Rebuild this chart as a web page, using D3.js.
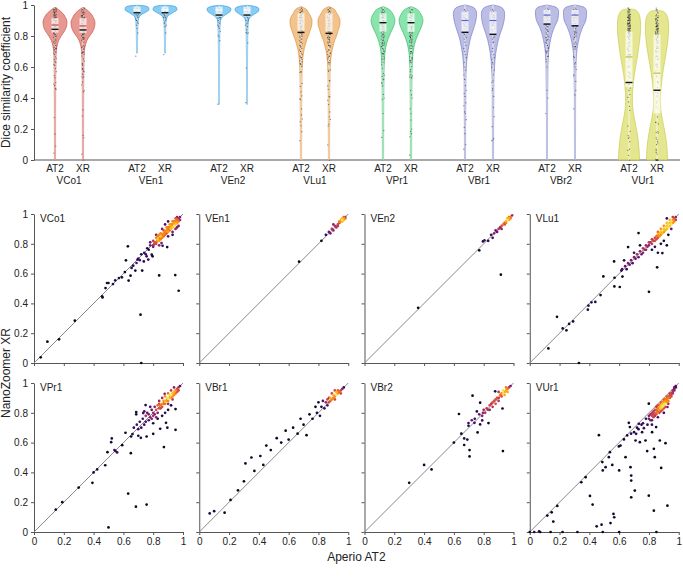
<!DOCTYPE html>
<html>
<head>
<meta charset="utf-8">
<script src="https://cdn.jsdelivr.net/npm/d3@7"></script>
<style>
  body { margin: 0; background: #fff; }
  svg { font-family: "Liberation Sans", Arial, sans-serif; }
  .axis path, .axis line { stroke: #555; }
  .axis text { font-size: 10px; fill: #222; font-family: "Liberation Sans", Arial, sans-serif; }
</style>
</head>
<body>
<div id="chart"></div>
<script>
// ---- data ----
const groups = ["VCo1", "VEn1", "VEn2", "VLu1", "VPr1", "VBr1", "VBr2", "VUr1"];
const platforms = ["AT2", "XR"];
const tickValues = [0, 0.2, 0.4, 0.6, 0.8, 1];
const tickLabels = ["0", "0.2", "0.4", "0.6", "0.8", "1"];

// violin outline: [dice value, relative half width]
const profileAT2 = [
  [[0.985,0],[0.97,0.3],[0.95,0.6],[0.92,0.88],[0.89,1],[0.86,0.95],[0.83,0.78],[0.8,0.52],[0.77,0.3],[0.73,0.16],[0.68,0.09],[0.55,0.06],[0.3,0.05],[0,0.045]],
  [[0.998,0],[0.995,0.6],[0.985,0.95],[0.97,1],[0.955,0.75],[0.94,0.42],[0.925,0.2],[0.9,0.1],[0.85,0.06],[0.75,0.045],[0.69,0.04]],
  [[0.998,0],[0.99,0.7],[0.975,1],[0.96,0.95],[0.945,0.7],[0.93,0.4],[0.915,0.2],[0.89,0.1],[0.8,0.06],[0.6,0.04],[0.36,0.035]],
  [[0.99,0],[0.975,0.4],[0.946,0.65],[0.92,0.85],[0.9,0.92],[0.87,0.9],[0.84,0.78],[0.8,0.6],[0.774,0.47],[0.74,0.35],[0.71,0.25],[0.645,0.14],[0.58,0.09],[0.45,0.065],[0.2,0.055],[0,0.05]],
  [[0.99,0],[0.975,0.45],[0.95,0.75],[0.92,0.95],[0.9,1],[0.87,0.92],[0.82,0.63],[0.78,0.42],[0.73,0.24],[0.66,0.13],[0.55,0.08],[0.3,0.055],[0,0.05]],
  [[1,0],[0.99,0.55],[0.97,0.88],[0.946,0.97],[0.92,0.95],[0.89,0.88],[0.86,0.77],[0.82,0.6],[0.774,0.42],[0.73,0.31],[0.69,0.22],[0.6,0.11],[0.5,0.07],[0.2,0.05],[0,0.045]],
  [[1,0],[0.99,0.6],[0.975,0.9],[0.957,0.97],[0.93,0.95],[0.9,0.88],[0.86,0.63],[0.817,0.43],[0.753,0.24],[0.688,0.13],[0.6,0.08],[0.4,0.05],[0,0.04]],
  [[0.975,0],[0.97,0.5],[0.946,0.8],[0.9,0.95],[0.86,0.97],[0.8,0.93],[0.753,0.86],[0.7,0.77],[0.645,0.65],[0.59,0.53],[0.537,0.42],[0.48,0.34],[0.43,0.29],[0.38,0.28],[0.344,0.3],[0.28,0.42],[0.215,0.58],[0.13,0.76],[0.06,0.85],[0,0.88]]
];
const profileXR = [
  [[0.985,0],[0.97,0.3],[0.95,0.6],[0.92,0.86],[0.885,1],[0.855,0.95],[0.825,0.78],[0.8,0.55],[0.77,0.32],[0.73,0.17],[0.68,0.09],[0.55,0.06],[0.3,0.05],[0,0.045]],
  [[0.998,0],[0.995,0.6],[0.985,0.95],[0.97,1],[0.955,0.75],[0.94,0.42],[0.925,0.2],[0.9,0.1],[0.85,0.06],[0.75,0.045],[0.69,0.04]],
  [[0.998,0],[0.99,0.7],[0.975,1],[0.96,0.95],[0.945,0.7],[0.93,0.4],[0.915,0.2],[0.89,0.1],[0.8,0.06],[0.6,0.04],[0.36,0.035]],
  [[0.99,0],[0.975,0.4],[0.946,0.65],[0.92,0.85],[0.9,0.92],[0.87,0.9],[0.84,0.78],[0.8,0.62],[0.774,0.48],[0.74,0.36],[0.71,0.26],[0.645,0.14],[0.58,0.09],[0.45,0.065],[0.2,0.055],[0,0.05]],
  [[0.99,0],[0.975,0.45],[0.95,0.75],[0.92,0.95],[0.9,1],[0.87,0.92],[0.82,0.64],[0.78,0.43],[0.73,0.25],[0.66,0.13],[0.55,0.08],[0.3,0.055],[0,0.05]],
  [[1,0],[0.99,0.55],[0.97,0.88],[0.946,0.97],[0.92,0.96],[0.89,0.9],[0.86,0.8],[0.82,0.62],[0.774,0.44],[0.73,0.32],[0.69,0.23],[0.6,0.12],[0.5,0.07],[0.2,0.05],[0,0.045]],
  [[1,0],[0.99,0.6],[0.975,0.9],[0.957,0.97],[0.93,0.95],[0.9,0.9],[0.86,0.66],[0.817,0.45],[0.753,0.25],[0.688,0.13],[0.6,0.08],[0.4,0.05],[0,0.04]],
  [[0.965,0],[0.96,0.5],[0.935,0.8],[0.89,0.95],[0.85,0.97],[0.79,0.93],[0.74,0.86],[0.69,0.76],[0.635,0.64],[0.58,0.52],[0.525,0.42],[0.47,0.34],[0.42,0.29],[0.37,0.28],[0.33,0.31],[0.27,0.43],[0.21,0.58],[0.13,0.76],[0.06,0.85],[0,0.88]]
];

// box summary: [q1, q3, median, mean]
const boxAT2 = [
  [0.822,0.915,0.871,0.843], [0.945,0.99,0.968,0.95], [0.925,0.99,0.968,0.935], [0.835,0.946,0.892,0.823],
  [0.828,0.946,0.905,0.886], [0.824,0.957,0.9,0.824], [0.877,0.968,0.935,0.877], [0.47,0.83,0.665,0.5]
];
const boxXR = [
  [0.82,0.915,0.865,0.839], [0.945,0.99,0.968,0.95], [0.925,0.99,0.968,0.935], [0.83,0.946,0.892,0.817],
  [0.826,0.946,0.905,0.886], [0.806,0.957,0.9,0.811], [0.866,0.968,0.935,0.866], [0.3,0.81,0.56,0.45]
];

const violinFill = ["#e3867c", "#72c4f2", "#72c4f2", "#f0b878", "#74e09e", "#b0b1e0", "#b0b1e0", "#dfe27c"];
const violinStroke = ["#c8453b", "#2f95d8", "#2f95d8", "#d98a30", "#2fb35f", "#6f72c4", "#6f72c4", "#c3c83a"];
const medianColor = ["#d0483e", "#ffffff", "#ffffff", "#f6e7d2", "#e6f8ec", "#5b5fd0", "#5b5fd0", "#c4be3a"];

// scatter points per category: [Aperio AT2, NanoZoomer XR]
const ptsVCo1 = [
  [0.045,0.038],[0.09,0.143],[0.168,0.159],[0.274,0.284],[0.457,0.447],[0.46,0.44],[0.48,0.503],[0.49,0.537],[0.5,0.537],
  [0.53,0.53],[0.545,0.555],[0.57,0.57],[0.59,0.575],[0.61,0.61],[0.617,0.689],[0.63,0.783],[0.635,0.553],[0.648,0.586],
  [0.655,0.638],[0.666,0.653],[0.68,0.62],[0.688,0.671],[0.695,0.694],[0.715,0.324],[0.726,0.62],[0.737,0.682],[0.756,0.716],
  [0.767,0.694],[0.79,0.727],[0.796,0.716],[0.84,0.588],[0.856,0.805],[0.863,0.787],[0.894,0.778],[0.948,0.59],[0.971,0.485],
  [0.72,0],[0.7,0.7],[0.71,0.69],[0.72,0.73],[0.74,0.74],[0.75,0.73],[0.76,0.77],[0.77,0.76],[0.78,0.79],[0.8,0.78],
  [0.8,0.82],[0.81,0.8],[0.82,0.81],[0.82,0.84],[0.83,0.82],[0.84,0.83],[0.84,0.86],[0.85,0.84],
  [0.80,0.79],[0.81,0.81],[0.82,0.80],[0.83,0.83],[0.84,0.82],[0.85,0.85],[0.85,0.83],[0.86,0.86],[0.86,0.84],[0.87,0.87],
  [0.87,0.85],[0.88,0.88],[0.88,0.86],[0.89,0.89],[0.89,0.87],[0.9,0.9],[0.9,0.88],[0.9,0.91],[0.91,0.91],[0.91,0.89],
  [0.92,0.92],[0.92,0.9],[0.92,0.93],[0.93,0.93],[0.93,0.91],[0.94,0.94],[0.94,0.92],[0.94,0.95],[0.95,0.95],[0.95,0.93],
  [0.96,0.96],[0.96,0.94],[0.97,0.97],[0.97,0.95],[0.98,0.98],[0.98,0.96],[0.93,0.95],[0.91,0.93],[0.89,0.91],[0.87,0.89],
  [0.95,0.97],[0.96,0.98],[0.83,0.85],[0.85,0.87],[0.88,0.93],[0.9,0.95],[0.93,0.88],[0.95,0.9],[0.97,0.92],[0.86,0.9],
  [0.84,0.79],[0.82,0.86],[0.78,0.81],[0.93,0.86],[0.96,0.91],[0.9,0.85]
];
const ptsVEn1 = [
  [0.67,0.68],[0.82,0.82],[0.85,0.86],[0.87,0.88],[0.88,0.87],[0.89,0.9],[0.9,0.89],[0.91,0.92],[0.92,0.91],[0.93,0.93],
  [0.94,0.94],[0.95,0.95],[0.95,0.96],[0.96,0.96],[0.97,0.97],[0.97,0.96],[0.98,0.98],[0.96,0.97],[0.94,0.95],[0.93,0.92],
  [0.9,0.93],[0.96,0.95],[0.97,0.98],[0.98,0.97]
];
const ptsVEn2 = [
  [0.36,0.37],[0.77,0.756],[0.795,0.816],[0.805,0.823],[0.83,0.82],[0.85,0.86],[0.86,0.84],[0.87,0.87],[0.88,0.89],[0.89,0.88],
  [0.9,0.9],[0.91,0.91],[0.92,0.92],[0.93,0.93],[0.94,0.94],[0.95,0.95],[0.95,0.94],[0.96,0.96],[0.97,0.97],[0.97,0.96],
  [0.98,0.98],[0.99,0.99],[0.96,0.97],[0.94,0.93],[0.915,0.593],[0.92,0.9],[0.98,0.97],[0.97,0.98]
];
const ptsVLu1 = [
  [0.125,0.098],[0.183,0.31],[0.221,0.232],[0.246,0.219],[0.264,0.262],[0.291,0.279],[0.39,0.358],[0.394,0.385],[0.414,0.407],
  [0.44,0.41],[0.475,0.456],[0.494,0.581],[0.568,0.514],[0.569,0.572],[0.566,0.682],[0.604,0.51],[0.615,0.62],[0.622,0.58],
  [0.633,0.689],[0.66,0.778],[0.73,0.872],[0.8,0.478],[0.855,0.642],[0.86,0.74],[0.92,0.97],[0.89,0.738],[0.33,0],
  [0.62,0.63],[0.64,0.65],[0.65,0.63],[0.66,0.67],[0.67,0.66],[0.68,0.69],[0.69,0.67],[0.7,0.71],[0.71,0.7],[0.72,0.73],
  [0.73,0.71],[0.74,0.75],[0.75,0.73],[0.76,0.77],[0.76,0.74],[0.77,0.76],[0.78,0.79],[0.78,0.76],[0.79,0.78],[0.8,0.81],
  [0.8,0.79],[0.7,0.74],[0.74,0.79],[0.82,0.76],[0.84,0.78],[0.88,0.8],[0.9,0.82],[0.93,0.86],[0.95,0.9],[0.92,0.79],
  [0.81,0.81],[0.82,0.8],[0.82,0.83],[0.83,0.82],[0.84,0.84],[0.84,0.82],[0.85,0.85],[0.85,0.83],[0.86,0.86],[0.86,0.84],
  [0.87,0.87],[0.87,0.85],[0.88,0.88],[0.88,0.86],[0.89,0.89],[0.89,0.87],[0.9,0.9],[0.9,0.88],[0.91,0.91],[0.91,0.89],
  [0.92,0.92],[0.92,0.9],[0.93,0.93],[0.93,0.91],[0.94,0.94],[0.94,0.92],[0.95,0.95],[0.95,0.93],[0.96,0.96],[0.96,0.94],
  [0.97,0.97],[0.97,0.95],[0.98,0.98],[0.88,0.9],[0.9,0.92],[0.92,0.94],[0.94,0.96],[0.86,0.88],[0.96,0.98],[0.98,0.96]
];
const ptsVPr1 = [
  [0.146,0.15],[0.19,0.2],[0.3,0.298],[0.392,0.33],[0.4,0.4],[0.424,0.42],[0.478,0.448],[0.493,0.536],[0.518,0.603],
  [0.522,0.628],[0.54,0.55],[0.547,0.543],[0.558,0.534],[0.592,0.583],[0.614,0.666],[0.65,0.529],[0.632,0.258],[0.652,0.641],
  [0.661,0.657],[0.684,0.17],[0.756,0.184],[0.5,0.031],[0.7,0.646],[0.717,0.632],[0.756,0.641],[0.749,0.852],[0.686,0.805],
  [0.686,0.79],[0.733,0.798],[0.8,0.659],[0.847,0.693],[0.872,0.57],[0.886,0.733],[0.895,0.7],[0.95,0.686],[0.95,0.825],
  [0.877,0.928],
  [0.67,0.7],[0.69,0.72],[0.7,0.69],[0.71,0.74],[0.72,0.7],[0.73,0.76],[0.74,0.72],[0.75,0.78],[0.75,0.74],[0.76,0.8],
  [0.77,0.75],[0.77,0.79],[0.78,0.77],[0.79,0.82],[0.79,0.76],[0.8,0.8],[0.8,0.78],[0.81,0.84],[0.81,0.79],[0.82,0.82],
  [0.82,0.77],[0.83,0.85],[0.83,0.8],[0.84,0.83],[0.78,0.84],[0.74,0.81],[0.8,0.73],[0.83,0.76],[0.86,0.78],[0.88,0.8],
  [0.9,0.82],[0.92,0.85],[0.86,0.9],[0.84,0.88],
  [0.84,0.86],[0.85,0.85],[0.85,0.83],[0.86,0.86],[0.86,0.84],[0.87,0.88],[0.87,0.86],[0.88,0.88],[0.88,0.86],[0.89,0.9],
  [0.89,0.88],[0.9,0.9],[0.9,0.88],[0.91,0.92],[0.91,0.9],[0.92,0.92],[0.92,0.9],[0.93,0.93],[0.93,0.91],[0.94,0.94],
  [0.94,0.92],[0.95,0.95],[0.95,0.93],[0.96,0.96],[0.96,0.94],[0.97,0.97],[0.97,0.95],[0.98,0.98],[0.88,0.91],[0.9,0.93],
  [0.92,0.95],[0.94,0.97],[0.9,0.86],[0.93,0.89]
];
const ptsVBr1 = [
  [0.07,0.125],[0.1,0.14],[0.17,0.13],[0.21,0.215],[0.26,0.28],[0.3,0.34],[0.31,0.46],[0.35,0.5],[0.37,0.41],[0.41,0.51],
  [0.43,0.45],[0.45,0.58],[0.48,0.55],[0.52,0.63],[0.55,0.6],[0.58,0.68],[0.6,0.62],[0.63,0.7],[0.66,0.66],[0.68,0.76],
  [0.7,0.72],[0.72,0.65],[0.74,0.79],[0.76,0.76],[0.78,0.84],[0.79,0.8],[0.8,0.87],[0.81,0.78],[0.82,0.84],[0.83,0.88],
  [0.84,0.83],[0.85,0.87],[0.86,0.85],[0.86,0.89],[0.87,0.87],[0.88,0.88],[0.88,0.9],[0.89,0.89],[0.9,0.9],[0.9,0.92],
  [0.91,0.91],[0.92,0.92],[0.92,0.94],[0.93,0.93],[0.94,0.94],[0.95,0.95],[0.95,0.93],[0.96,0.96],[0.97,0.97],[0.93,0.95],
  [0.91,0.89],[0.89,0.93],[0.87,0.9],[0.91,0.95]
];
const ptsVBr2 = [
  [0.3,0.33],[0.4,0.45],[0.45,0.42],[0.634,0.792],[0.669,0.584],[0.669,0.628],[0.69,0.62],[0.705,0.55],[0.705,0.507],
  [0.698,0.713],[0.698,0.731],[0.725,0.915],[0.738,0.733],[0.754,0.809],[0.759,0.668],[0.776,0.868],[0.776,0.722],[0.79,0.749],
  [0.795,0.8],[0.832,0.731],[0.877,0.944],[0.929,0.543],[0.926,0.829],[0.6,0.6],[0.65,0.66],[0.72,0.75],[0.74,0.76],
  [0.77,0.79],[0.79,0.78],[0.8,0.82],[0.81,0.8],[0.82,0.83],[0.83,0.82],[0.84,0.85],[0.84,0.82],[0.85,0.86],[0.86,0.84],
  [0.86,0.87],[0.87,0.88],[0.88,0.86],[0.88,0.89],[0.89,0.9],[0.9,0.9],[0.9,0.88],[0.91,0.92],[0.92,0.91],[0.92,0.93],
  [0.93,0.93],[0.94,0.94],[0.94,0.92],[0.95,0.95],[0.96,0.96],[0.96,0.94],[0.97,0.97],[0.98,0.98],[0.93,0.95],[0.95,0.97],
  [0.9,0.94]
];
const ptsVUr1 = [
  [0.0625,0.005],[0.118,0.11],[0.147,0.132],[0.158,0.07],[0.185,0.175],[0.346,0.334],[0.375,0.368],[0.404,0.242],[0.422,0.184],
  [0.449,0.038],[0.482,0.049],[0.464,0.65],[0.487,0.469],[0.49,0.413],[0.509,0.435],[0.531,0.502],[0.538,0.536],[0.542,0.06],
  [0.554,0.45],[0.562,0.121],[0.567,0.099],[0.598,0.574],[0.6,0.413],[0.609,0.58],[0.632,0.621],[0.643,0.502],[0.654,0.648],
  [0.665,0.733],[0.672,0.704],[0.676,0.435],[0.681,0.379],[0.681,0.345],[0.681,0.233],[0.705,0.278],[0.71,0.614],[0.714,0.659],
  [0.732,0.726],[0.739,0.603],[0.754,0.67],[0.766,0.697],[0.777,0.614],[0.788,0.543],[0.799,0.244],[0.799,0.861],[0.821,0.67],
  [0.833,0.143],[0.833,0.558],[0.839,0.502],[0.848,0.704],[0.873,0.614],[0.882,0.43],[0.911,0.596],[0.924,0.177],[0.924,0.839],
  [0.07,0],[0.14,0],[0.22,0],[0.32,0],[0.49,0],[0.6,0],[0.85,0],[0,0],[0.03,0],
  [0.72,0.7],[0.75,0.72],[0.78,0.76],[0.8,0.78],[0.81,0.75],[0.82,0.8],[0.83,0.77],[0.84,0.82],[0.85,0.79],[0.85,0.84],
  [0.86,0.81],[0.87,0.85],[0.87,0.82],[0.88,0.86],[0.88,0.83],[0.89,0.87],[0.89,0.84],[0.9,0.88],[0.9,0.85],[0.91,0.89],
  [0.91,0.86],[0.92,0.9],[0.92,0.87],[0.93,0.91],[0.93,0.88],[0.94,0.92],[0.94,0.9],[0.95,0.93],[0.95,0.91],[0.96,0.95],
  [0.97,0.96],[0.98,0.97],[0.86,0.77],[0.82,0.72],[0.79,0.72],[0.9,0.8],
  [0.8,0.76],[0.81,0.79],[0.82,0.78],[0.83,0.81],[0.84,0.8],[0.84,0.78],[0.85,0.82],[0.86,0.83],[0.86,0.85],[0.87,0.84],
  [0.87,0.8],[0.88,0.85],[0.88,0.87],[0.89,0.86],[0.89,0.82],[0.9,0.87],[0.9,0.89],[0.91,0.88],[0.91,0.84],[0.92,0.89],
  [0.92,0.91],[0.93,0.9],[0.93,0.86],[0.94,0.91],[0.94,0.93],[0.95,0.92],[0.96,0.94],[0.96,0.93],[0.97,0.95],[0.97,0.97],
  [0.98,0.98],[0.85,0.8],[0.83,0.79],[0.82,0.75],[0.88,0.81],[0.9,0.83],[0.7,0.67],[0.73,0.69],[0.68,0.66],[0.76,0.73]
];
const scatterPts = [ptsVCo1, ptsVEn1, ptsVEn2, ptsVLu1, ptsVPr1, ptsVBr1, ptsVBr2, ptsVUr1];

// ---- drawing ----
const W = 683, H = 577;
const svg = d3.select("#chart").append("svg")
  .attr("width", W).attr("height", H);

// ===== violin panel =====
const yV = d3.scaleLinear().domain([0, 1]).range([160, 5]);
const xGroup = d3.scaleBand().domain(groups).range([28, 684]);
const xPlat = d3.scalePoint().domain(platforms).range([-14, 14]);
const halfW = d3.scaleLinear().domain([0, 1]).range([0, 12]);

const violinG = svg.append("g");

violinG.append("g").attr("class", "axis")
  .attr("transform", "translate(34,0)")
  .call(d3.axisLeft(yV).tickValues(tickValues).tickFormat((d, i) => tickLabels[i]).tickSize(3).tickSizeOuter(0));

violinG.append("line")
  .attr("x1", 34).attr("x2", 680).attr("y1", yV(0)).attr("y2", yV(0))
  .attr("stroke", "#555");

violinG.append("text")
  .attr("transform", `translate(10,${yV(0.5)}) rotate(-90)`)
  .attr("text-anchor", "middle").attr("font-size", 12).attr("fill", "#222")
  .text("Dice similarity coefficient");

groups.forEach((g, gi) => {
  const gc = xGroup(g) + xGroup.bandwidth() / 2;
  platforms.forEach((p, pi) => {
    const cx = gc + xPlat(p);
    const prof = pi === 0 ? profileAT2[gi] : profileXR[gi];
    const box = pi === 0 ? boxAT2[gi] : boxXR[gi];
    const area = d3.area()
      .y(d => yV(d[0]))
      .x0(d => cx - halfW(d[1]))
      .x1(d => cx + halfW(d[1]))
      .curve(d3.curveMonotoneY);
    violinG.append("path")
      .attr("d", area(prof))
      .attr("fill", violinFill[gi])
      .attr("fill-opacity", 0.85)
      .attr("stroke", violinStroke[gi])
      .attr("stroke-width", 0.6);

    const vmax = prof[0][0], vmin = prof[prof.length - 1][0];
    // whisker strip
    violinG.append("rect")
      .attr("x", cx - 1).attr("width", 2)
      .attr("y", yV(vmax)).attr("height", yV(vmin) - yV(vmax))
      .attr("fill", "#fff").attr("opacity", 0.35);

    // raw points
    const vals = scatterPts[gi].map(d => d[pi]);
    violinG.append("g").selectAll("circle")
      .data(vals)
      .join("circle")
      .attr("cx", (d, i) => cx + ((i * 5) % 7 - 3) * 0.4)
      .attr("cy", d => yV(d))
      .attr("r", 0.6)
      .attr("fill", "#222")
      .attr("opacity", 0.6);

    // box
    violinG.append("rect")
      .attr("x", cx - 3.5).attr("width", 7)
      .attr("y", yV(box[1])).attr("height", yV(box[0]) - yV(box[1]))
      .attr("fill", "#fff").attr("opacity", 0.7);
    violinG.append("line")
      .attr("x1", cx - 3.5).attr("x2", cx + 3.5)
      .attr("y1", yV(box[2])).attr("y2", yV(box[2]))
      .attr("stroke", medianColor[gi]).attr("stroke-width", 1.2);
    violinG.append("line")
      .attr("x1", cx - 3.5).attr("x2", cx + 3.5)
      .attr("y1", yV(box[3])).attr("y2", yV(box[3]))
      .attr("stroke", "#111").attr("stroke-width", 1.4);

    violinG.append("text")
      .attr("x", cx).attr("y", 172)
      .attr("text-anchor", "middle").attr("font-size", 10).attr("fill", "#222")
      .text(p);
  });
  violinG.append("text")
    .attr("x", gc).attr("y", 184)
    .attr("text-anchor", "middle").attr("font-size", 10).attr("fill", "#222")
    .text(g);
});

// ===== scatter panels =====
const colScale = d3.scaleBand().domain([0, 1, 2, 3]).range([34, 695]);
const rowScale = d3.scaleBand().domain([0, 1]).range([214, 552]);
const size = 149;

function densities(pts) {
  const r2 = 0.035 * 0.035;
  return pts.map(p => pts.filter(q => (q[0] - p[0]) ** 2 + (q[1] - p[1]) ** 2 < r2).length);
}

groups.forEach((g, gi) => {
  const col = gi % 4, row = Math.floor(gi / 4);
  const x0 = colScale(col), y0 = rowScale(row);
  const xs = d3.scaleLinear().domain([0, 1]).range([x0, x0 + size]);
  const ys = d3.scaleLinear().domain([0, 1]).range([y0 + size, y0]);
  const panel = svg.append("g");

  panel.append("g").attr("class", "axis")
    .attr("transform", `translate(0,${y0 + size})`)
    .call(d3.axisBottom(xs).tickValues(tickValues)
      .tickFormat((d, i) => row === 1 ? tickLabels[i] : "")
      .tickSize(3).tickSizeOuter(0));
  panel.append("g").attr("class", "axis")
    .attr("transform", `translate(${x0},0)`)
    .call(d3.axisLeft(ys).tickValues(tickValues)
      .tickFormat((d, i) => col === 0 ? tickLabels[i] : "")
      .tickSize(3).tickSizeOuter(0));

  panel.append("line")
    .attr("x1", xs(0)).attr("y1", ys(0)).attr("x2", xs(1)).attr("y2", ys(1))
    .attr("stroke", "#8a8a8a").attr("stroke-width", 1);

  const pts = scatterPts[gi];
  const dens = densities(pts);
  const maxD = d3.max(dens);
  const color = d => d3.interpolateInferno(0.06 + 0.86 * Math.pow((d - 1) / Math.max(1, maxD - 1), 1.2));
  const order = d3.range(pts.length).sort((a, b) => dens[a] - dens[b]);

  panel.append("g").selectAll("circle")
    .data(order)
    .join("circle")
    .attr("cx", i => xs(pts[i][0]))
    .attr("cy", i => ys(pts[i][1]))
    .attr("r", 1.35)
    .attr("fill", i => color(dens[i]));

  panel.append("text")
    .attr("x", x0 + 6).attr("y", y0 + 8)
    .attr("font-size", 10).attr("fill", "#222")
    .text(g);
});

svg.append("text")
  .attr("transform", `translate(10,${(rowScale(0) + rowScale(1) + size) / 2}) rotate(-90)`)
  .attr("text-anchor", "middle").attr("font-size", 12).attr("fill", "#222")
  .text("NanoZoomer XR");

svg.append("text")
  .attr("x", (colScale(0) + colScale(3) + size) / 2).attr("y", 561)
  .attr("text-anchor", "middle").attr("font-size", 12).attr("fill", "#222")
  .text("Aperio AT2");
</script>
</body>
</html>
